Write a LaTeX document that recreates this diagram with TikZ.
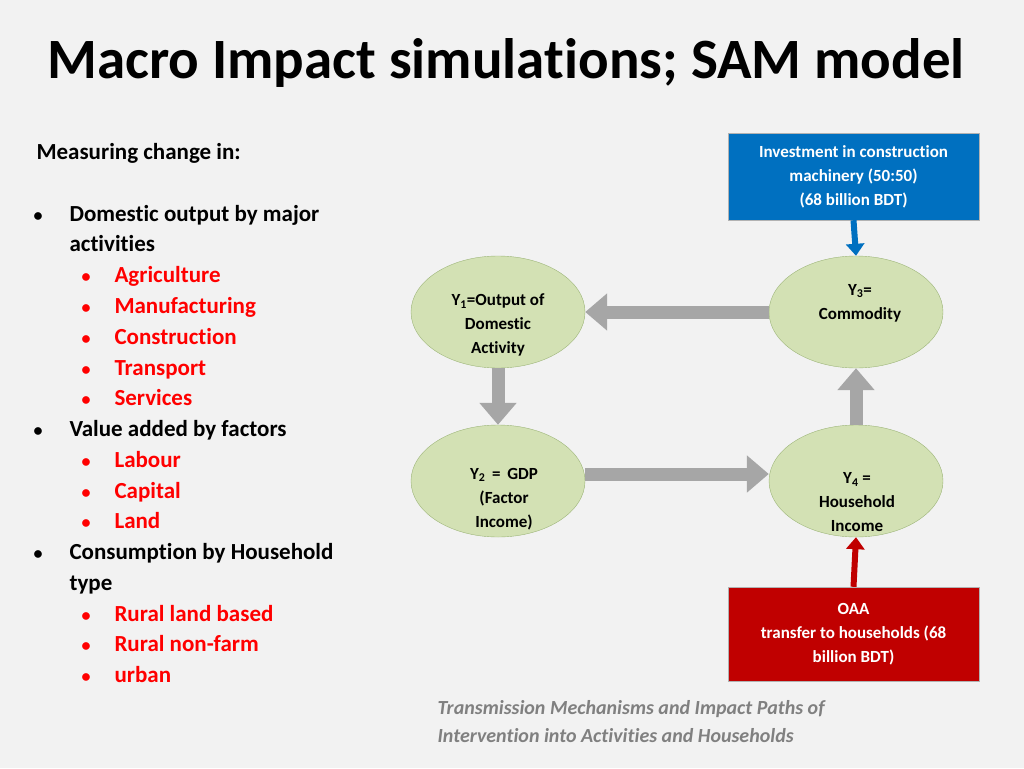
\documentclass[tikz,border=0pt]{standalone}
\usepackage{fontspec}
\setmainfont[Ligatures=NoCommon]{Carlito}
\usetikzlibrary{arrows.meta,shapes.geometric,shapes.arrows}
\definecolor{bg}{HTML}{F2F2F2}
\definecolor{ell}{HTML}{D3E1B4}
\definecolor{ellb}{HTML}{9DB579}
\definecolor{gr}{HTML}{A6A6A6}
\definecolor{bl}{HTML}{0070C0}
\definecolor{rd}{HTML}{C00000}
\definecolor{rt}{HTML}{FF0000}
\definecolor{cap}{HTML}{808080}
\begin{document}
\begin{tikzpicture}[x=1pt,y=-1pt,
  el/.style={ellipse,draw=ellb,fill=ell,minimum width=174,minimum height=112},
  et/.style={align=center,font=\fontsize{17}{24}\selectfont\bfseries},
  bx/.style={draw=white!70!black,minimum width=251,align=center,text=white,font=\fontsize{17}{24}\selectfont\bfseries},
  big/.style={line width=13,draw=gr,-{Triangle[length=22,width=36]}},
  chev/.style={line width=6,-{Triangle[length=12,width=18]}},
  lt/.style={anchor=base west,font=\fontsize{23}{28}\selectfont\bfseries},
  rtx/.style={lt,text=rt}]
\fill[bg] (0,0) rectangle (1024,768);
\node[anchor=base west,font=\fontsize{57}{60}\selectfont\bfseries] (title) at (44,78) {Macro Impact simulations; SAM model};
\node[lt] (m) at (33,159) {Measuring change in:};
\foreach \y in {221,436,559}
  \node[lt] at (30,\y) {\fontsize{18}{20}\selectfont•};
\node[lt] (a1) at (66,221) {Domestic output by major};
\node[lt] (a2) at (66,251) {activities};
\node[lt] (b1) at (66,436) {Value added by factors};
\node[lt] (c1) at (66,559) {Consumption by Household};
\node[lt] (c2) at (66,590) {type};
\foreach \y/\t in {282/Agriculture,313/Manufacturing,344/Construction,375/Transport,405/Services,467/Labour,498/Capital,528/Land,621/Rural land based,651/Rural non-farm,682/urban}{
  \node[rtx] at (78,\y) {\fontsize{18}{20}\selectfont•};
  \node[rtx] at (111,\y) {\t};}
\node[el] (y1) at (498,312) {};
\node[el] (y3) at (856,312) {};
\node[el] (y2) at (498,481) {};
\node[el] (y4) at (856,481) {};
\node[et] (t1) at (498,325) {Y\textsubscript{1}=Output of\\Domestic\\Activity};
\node[et] (t3) at (860,303) {Y\textsubscript{3}=\\Commodity};
\node[et] (t2) at (504,499) {Y\textsubscript{2} \,=\, GDP\\(Factor\\Income)};
\node[et] (t4) at (857,502) {Y\textsubscript{4} =\\Household\\Income};
\node[bx,fill=bl,minimum height=87] (inv) at (853.5,176.5) {Investment in construction\\machinery (50:50)\\(68 billion BDT)};
\node[bx,fill=rd,minimum height=94] (oaa) at (853.5,634) {OAA\\transfer to households (68\\billion BDT)};
\draw[big] (y3.west) -- (y1.east);
\draw[big] (y1.south) -- (y2.north);
\draw[big] ([yshift=7]y2.east) -- ([yshift=7]y4.west);
\draw[big] (y4.north) -- (y3.south);
\draw[chev,draw=bl,fill=bl] (inv.south) -- (y3.north);
\draw[chev,draw=rd,fill=rd] (oaa.north) -- (y4.south);
\node[anchor=north west,align=left,text=cap,font=\fontsize{20}{28}\selectfont\bfseries\itshape] (cp) at (434,697) {Transmission Mechanisms and Impact Paths of\\Intervention into Activities and Households};
\end{tikzpicture}
\end{document}
